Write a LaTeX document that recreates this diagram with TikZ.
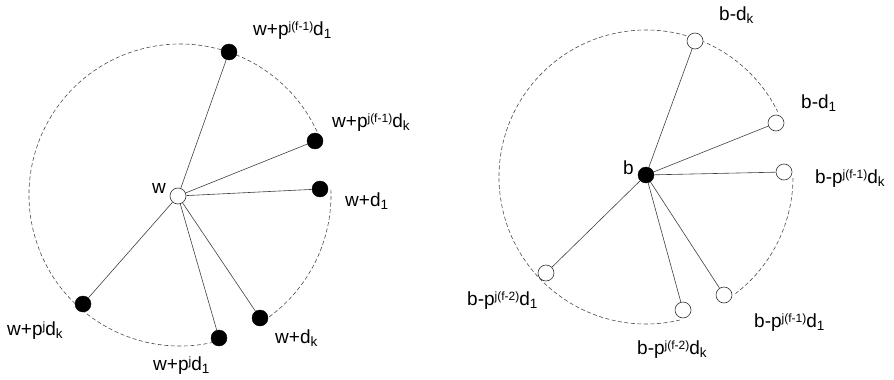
\documentclass[tikz,border=0pt]{standalone}
\usepackage{fontspec}
\setmainfont{Liberation Sans}
\newcommand\subx[1]{\raisebox{-0.17em}{\fontsize{13.5}{13.5}\selectfont #1}}
\newcommand\supx[1]{\raisebox{0.22em}{\fontsize{12}{12}\selectfont #1}}
\tikzset{
  fnode/.style={circle,fill=black,draw=black,minimum size=16pt,inner sep=0pt},
  onode/.style={circle,fill=white,draw=black!80,line width=0.6pt,minimum size=16pt,inner sep=0pt},
  edge/.style={draw=black!75,line width=0.6pt},
  rim/.style={draw=black!70,line width=0.6pt,dash pattern=on 4pt off 2.5pt},
  lbl/.style={anchor=base west,inner sep=0pt,font=\fontsize{19}{22}\selectfont}
}
\begin{document}
\begin{tikzpicture}[x=1pt,y=-1pt]
\useasboundingbox (0,0) rectangle (894,380);
% ---------- left diagram ----------
\coordinate (cl) at (180,195);
\draw[rim] (cl) ++(74.7:151) arc[start angle=74.7,end angle=335.3,radius=151];
\draw[rim] (cl) ++(-2:151) arc[start angle=-2,end angle=53.8,radius=151];
\node[onode] (w) at (178,196) {};
\node[fnode] (w1) at (229,52) {};
\node[fnode] (w2) at (315,141) {};
\node[fnode] (w3) at (320,189) {};
\node[fnode] (w4) at (83,304) {};
\node[fnode] (w5) at (219,338) {};
\node[fnode] (w6) at (260,318) {};
\foreach \n in {w1,w2,w3,w4,w5,w6} \draw[edge] (w) -- (\n);
\node[lbl] (lw) at (152,193) {w};
\node[lbl] (l1) at (253,35) {w+p\supx{j(f-1)}d\subx{1}};
\node[lbl] (l2) at (332,127) {w+p\supx{j(f-1)}d\subx{k}};
\node[lbl] (l3) at (345,206) {w+d\subx{1}};
\node[lbl] (l4) at (7,335) {w+p\supx{j}d\subx{k}};
\node[lbl] (l5) at (153,370) {w+p\supx{j}d\subx{1}};
\node[lbl] (l6) at (275,343) {w+d\subx{k}};
% ---------- right diagram ----------
\coordinate (cr) at (646,177);
\draw[rim] (cr) ++(76.6:147) arc[start angle=76.6,end angle=333.6,radius=147];
\draw[rim] (cr) ++(0.4:147) arc[start angle=0.4,end angle=52.5,radius=147];
\node[fnode] (b) at (646,175) {};
\node[onode] (b1) at (695,41) {};
\node[onode] (b2) at (776,123) {};
\node[onode] (b3) at (784,172) {};
\node[onode] (b4) at (546,273) {};
\node[onode] (b5) at (683,310) {};
\node[onode] (b6) at (724,295) {};
\foreach \n in {b1,b2,b3,b4,b5,b6} \draw[edge] (b) -- (\n);
\node[lbl] (lb) at (623,174) {b};
\node[lbl] (r1) at (719,20) {b-d\subx{k}};
\node[lbl] (r2) at (801,108) {b-d\subx{1}};
\node[lbl] (r3) at (815,183) {b-p\supx{j(f-1)}d\subx{k}};
\node[lbl] (r4) at (467,305) {b-p\supx{j(f-2)}d\subx{1}};
\node[lbl] (r5) at (637,354) {b-p\supx{j(f-2)}d\subx{k}};
\node[lbl] (r6) at (754,327) {b-p\supx{j(f-1)}d\subx{1}};
\end{tikzpicture}
\end{document}
